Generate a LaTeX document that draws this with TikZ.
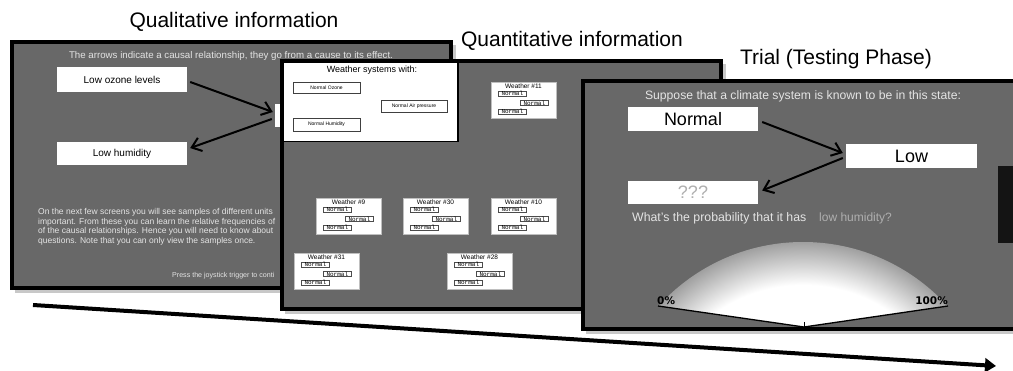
\documentclass[tikz,border=0pt]{standalone}
\usepackage{fontspec}
\setmainfont{Liberation Sans}
\newfontfamily\monof{Liberation Mono}
\newfontfamily\gaugef{DejaVu Sans}
\usetikzlibrary{arrows.meta}
\definecolor{panelgray}{RGB}{104,104,104}
\definecolor{txtlight}{RGB}{228,228,228}
\definecolor{shadowgray}{RGB}{200,200,200}
\definecolor{faintgray}{RGB}{175,175,175}
\definecolor{domeedge}{RGB}{160,160,160}
\pgfdeclareradialshading{domeshade}{\pgfpoint{0bp}{0bp}}{color(0bp)=(white); color(19.5bp)=(white); color(25bp)=(domeedge); color(50bp)=(domeedge)}
\newcommand\fsz[1]{\fontsize{#1}{#1}\selectfont}
\newcommand\wcard[3]{%
  \node[card, anchor=north west] (c#3) at (#1,#2) {};
  \node[cardtitle] (c#3t) at (#1+32.5,#2+4.5) {Weather \##3};
  \node[nbox, anchor=north west] (c#3a) at (#1+7,#2+9) {Normal};
  \node[nbox, anchor=north west] (c#3b) at (#1+29,#2+18.5) {Normal};
  \node[nbox, anchor=north west] (c#3c) at (#1+7,#2+27) {Normal};
}
\begin{document}
\begin{tikzpicture}[x=1pt,y=-1pt,
  title/.style={anchor=base, inner sep=0pt, font=\fsz{21}},
  panel/.style={line width=4pt, draw=black},
  wbox/.style={fill=white, inner sep=0pt, minimum width=130pt},
  carrow/.style={line width=2pt, -{Straight Barb[length=9pt,width=14pt,line width=2pt]}},
  mini/.style={fill=white, draw=black!75, line width=0.8pt, inner sep=0pt, font=\fsz{5}},
  card/.style={fill=white, draw=black!25, line width=0.5pt, minimum width=65pt, minimum height=36pt, inner sep=0pt},
  cardtitle/.style={inner sep=0pt, font=\fsz{6.5}},
  nbox/.style={fill=white, draw=black!70, line width=0.6pt, minimum width=28pt, minimum height=5pt, inner sep=0pt, font=\monof\fsz{6}},
  lighttext/.style={text=txtlight, inner sep=0pt}
]
\useasboundingbox (0,0) rectangle (1013,371);
\clip (0,0) rectangle (1013,371);

% titles
\node[title] (t1) at (234,28) {Qualitative information};
\node[title] (t2) at (572,47) {Quantitative information};
\node[title] (t3) at (836,65) {Trial (Testing Phase)};

% ---------- panel 1 ----------
\fill[shadowgray] (15,45) rectangle (456,293);
\fill[panelgray] (12,42) rectangle (451,288);
\node[lighttext, font=\fsz{9.7}] (h1) at (231,56) {The arrows indicate a causal relationship, they go from a cause to its effect.};
\node[wbox, minimum height=25pt, font=\fsz{10}] (oz) at (122,79.5) {Low ozone levels};
\node[wbox, minimum height=23pt, font=\fsz{10}] (hum) at (122,153.5) {Low humidity};
\node[fill=white, inner sep=0pt, minimum width=8pt, minimum height=23pt] (mid) at (279,115.5) {};
\draw[carrow] ([shift={(3,2.5)}]oz.east) -- ([shift={(-2,-3.5)}]mid.west);
\draw[carrow] ([shift={(-3,3.5)}]mid.west) -- ([shift={(3,-5.5)}]hum.east);
\node[lighttext, anchor=north west, align=left, font=\fontsize{8.5}{9.7}\selectfont] (para) at (38,208) {On the next few screens you will see samples of different units\\important. From these you can learn the relative frequencies of\\of the causal relationships. Hence you will need to know about\\questions. Note that you can only view the samples once.};
\node[lighttext, anchor=west, font=\fsz{7.1}] (press) at (172,276) {Press the joystick trigger to conti};
\draw[panel] (12,42) rectangle (451,288);

% ---------- panel 2 ----------
\fill[shadowgray] (285,64) rectangle (726,314);
\fill[panelgray] (282,61) rectangle (721,309);
\node[fill=white, draw=black, line width=1.5pt, anchor=north west, minimum width=175pt, minimum height=80pt, inner sep=0pt] (wsys) at (282,61) {};
\node[inner sep=0pt, font=\fsz{9}] (wst) at (372,70) {Weather systems with:};
\node[mini, minimum width=67pt, minimum height=11pt] (mo) at (326.5,87.5) {Normal Ozone};
\node[mini, minimum width=66pt, minimum height=12pt] (ma) at (414,106) {Normal Air pressure};
\node[mini, minimum width=67pt, minimum height=13pt] (mh) at (326.5,124.5) {Normal Humidity};
\wcard{491}{82}{11}
\wcard{316}{198}{9}
\wcard{403}{198}{30}
\wcard{491}{198}{10}
\wcard{294}{253}{31}
\wcard{447}{253}{28}
\draw[panel] (282,61) rectangle (721,309);

% ---------- panel 3 ----------
\fill[shadowgray] (586,84) rectangle (1025,334);
\fill[panelgray] (583,81) rectangle (1025,329);
\node[lighttext, font=\fsz{12.2}] (h3) at (803,96) {Suppose that a climate system is known to be in this state:};
\node[wbox, minimum height=24pt, font=\fsz{18}] (n1) at (693,119) {Normal};
\node[wbox, minimum width=131pt, minimum height=24pt, font=\fsz{18}] (n2) at (911.5,156) {Low};
\node[wbox, minimum height=23pt, font=\fsz{18}, text=faintgray] (n3) at (693,192.5) {???};
\draw[carrow] ([shift={(4,3)}]n1.east) -- ([shift={(-3,-3)}]n2.west);
\draw[carrow] ([shift={(-3,2)}]n2.west) -- ([shift={(4,-2)}]n3.east);
\node[lighttext, anchor=base west, font=\fsz{12.3}] (q1) at (632,222) {What's the probability that it has};
\node[inner sep=0pt, anchor=base west, font=\fsz{12}, text=faintgray] (q2) at (819,222) {low humidity?};
% gauge
\coordinate (g0) at (658,306);
\coordinate (g1) at (948,306);
\coordinate (gap) at (804,327);
\begin{scope}
  \clip (g0) arc[start angle=222, end angle=318, radius=195] -- (gap) -- cycle;
  \shade[shading=domeshade] (803,437) circle (195);
\end{scope}
\draw[line width=1.3pt] (g0) -- (gap) -- (g1);
\draw[line width=1pt] (804,322) -- (gap);
\node[inner sep=0pt, anchor=base west, font=\gaugef\bfseries\fsz{10.5}] (p0) at (657,305) {0\%};
\node[inner sep=0pt, anchor=base east, font=\gaugef\bfseries\fsz{10.5}] (p1) at (948,305) {100\%};
\fill[black!92] (998,166) rectangle (1020,243);
\draw[panel] (583,81) rectangle (1025,329);

% ---------- timeline ----------
\coordinate (tl0) at (33,305);
\coordinate (tl1) at (996,366);
\draw[line width=4pt, -{Triangle[length=11pt,width=14pt]}] (tl0) -- (tl1);
\end{tikzpicture}
\end{document}
